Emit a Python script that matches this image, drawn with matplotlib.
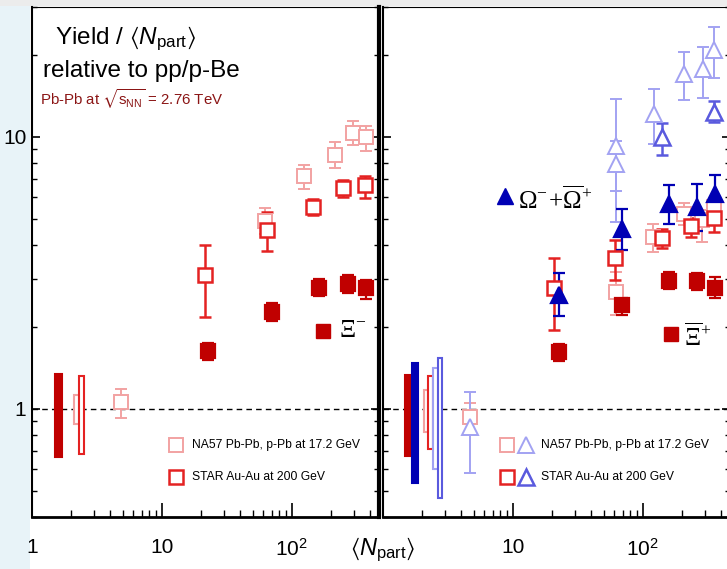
import numpy as np
import matplotlib.pyplot as plt
from matplotlib.patches import Rectangle

plt.rcParams['font.family'] = ['Liberation Sans', 'DejaVu Sans']
plt.rcParams['mathtext.fontset'] = 'custom'
plt.rcParams['mathtext.rm'] = 'Liberation Serif'
plt.rcParams['mathtext.it'] = 'Liberation Sans:italic'
plt.rcParams['mathtext.sf'] = 'Liberation Sans'
plt.rcParams['mathtext.fallback'] = 'stixsans'

# colours
c_alice_xi = '#c00000'
c_star_xi = '#e42222'
c_na57_xi = '#f2a2a2'
c_alice_om = '#0000b4'
c_star_om = '#5a5ade'
c_na57_om = '#a2a2f2'

# ---------------- left panel: Xi-
alice_xi_n = [22.5, 70, 161, 270, 371]
alice_xi_y = [1.63, 2.27, 2.79, 2.87, 2.77]
alice_xi_lo = [1.51, 2.11, 2.59, 2.67, 2.54]
alice_xi_hi = [1.75, 2.45, 2.99, 3.09, 2.97]

star_xi_n = [21.4, 64, 145, 247, 365]
star_xi_y = [3.09, 4.53, 5.51, 6.47, 6.67]
star_xi_lo = [2.18, 3.79, 5.15, 6.00, 5.97]
star_xi_hi = [4.01, 5.27, 5.90, 6.94, 7.20]

na57_xi_n = [4.84, 62, 124, 214, 295, 372]
na57_xi_y = [1.06, 4.92, 7.16, 8.60, 10.3, 9.94]
na57_xi_lo = [0.925, 4.40, 6.40, 7.70, 9.30, 8.90]
na57_xi_hi = [1.18, 5.48, 7.90, 9.60, 11.4, 11.0]

# ---------------- right panel: anti-Xi+ and Omega
alice_axi_n = [22.5, 69, 158, 264, 358]
alice_axi_y = [1.62, 2.40, 2.96, 2.94, 2.79]
alice_axi_lo = [1.50, 2.22, 2.75, 2.73, 2.56]
alice_axi_hi = [1.73, 2.56, 3.18, 3.16, 3.04]

star_axi_n = [20.6, 61, 142, 234, 354]
star_axi_y = [2.77, 3.59, 4.24, 4.69, 5.02]
star_axi_lo = [1.95, 2.98, 3.90, 4.28, 4.46]
star_axi_hi = [3.58, 4.18, 4.59, 5.04, 5.67]

na57_axi_n = [4.7, 62, 121, 208, 288, 354]
na57_axi_y = [0.93, 2.69, 4.28, 5.21, 4.93, 5.51]
na57_axi_lo = [0.81, 2.21, 3.77, 4.72, 4.10, 4.72]
na57_axi_hi = [1.05, 3.18, 4.76, 5.70, 5.40, 5.74]

alice_om_n = [22.5, 69, 158, 264, 358]
alice_om_y = [2.62, 4.58, 5.67, 5.51, 6.17]
alice_om_lo = [2.19, 3.83, 4.76, 4.49, 5.21]
alice_om_hi = [3.16, 5.43, 6.67, 6.71, 7.25]

star_om_n = [142, 354]
star_om_y = [9.94, 12.35]
star_om_lo = [8.6, 11.3]
star_om_hi = [11.2, 13.5]

na57_om_n = [4.7, 62, 62, 122, 208, 289, 354]
na57_om_y = [0.86, 9.27, 7.94, 12.1, 17.0, 17.7, 20.9]
na57_om_lo = [0.58, 6.3, 4.85, 9.4, 13.7, 13.9, 16.5]
na57_om_hi = [1.15, 13.8, 9.67, 15.0, 20.5, 21.4, 25.3]

# normalisation uncertainty boxes at small Npart: left edge, right edge, low, high
sys_left_x0 = [1.50, 2.10, 2.30]
sys_left_x1 = [1.70, 2.30, 2.51]
sys_left_lo = [0.667, 0.88, 0.68]
sys_left_hi = [1.34, 1.125, 1.32]
sys_left_col = [c_alice_xi, c_na57_xi, c_star_xi]
sys_left_fill = [True, False, False]

sys_right_x0 = [1.48, 1.67, 2.06, 2.23, 2.44, 2.63]
sys_right_x1 = [1.67, 1.87, 2.23, 2.44, 2.63, 2.84]
sys_right_lo = [0.67, 0.535, 0.82, 0.71, 0.60, 0.47]
sys_right_hi = [1.33, 1.47, 1.17, 1.32, 1.41, 1.54]
sys_right_col = [c_alice_xi, c_alice_om, c_na57_xi, c_star_xi, c_na57_om, c_star_om]
sys_right_fill = [True, True, False, False, False, False]


def errpts(ax, n, y, lo, hi, color, marker, filled, lw, ms):
    y = np.array(y)
    yerr = [y - np.array(lo), np.array(hi) - y]
    ax.errorbar(n, y, yerr=yerr, fmt=marker, color=color, ms=ms, mew=lw,
                mfc=color if filled else 'white', mec=color,
                elinewidth=lw, capsize=4, capthick=lw, zorder=3)


def sysboxes(ax, x0, x1, lo, hi, cols, fills):
    for a, b, l, h, c, f in zip(x0, x1, lo, hi, cols, fills):
        ax.add_patch(Rectangle((a, l), b - a, h - l, facecolor=c if f else 'white',
                               edgecolor=c, lw=1.5, zorder=2))


fig = plt.figure(figsize=(7.27, 5.69), dpi=100)
fig.patches.append(Rectangle((0, 0), 30 / 727, 1, transform=fig.transFigure,
                             facecolor='#e8f3f8', edgecolor='none', zorder=-1))
fig.patches.append(Rectangle((0, 1 - 6 / 569), 1, 6 / 569, transform=fig.transFigure,
                             facecolor='#ececec', edgecolor='none', zorder=-1))
ax1 = fig.add_axes([32 / 727, 52 / 569, 347 / 727, 510 / 569])
ax2 = fig.add_axes([383 / 727, 52 / 569, 347 / 727, 510 / 569])

for ax in (ax1, ax2):
    ax.set_xscale('log')
    ax.set_yscale('log')
    ax.set_xlim(1, 470)
    ax.set_ylim(0.4, 30)
    ax.axhline(1, color='k', ls='--', lw=1, dashes=(4, 3), zorder=1)
    ax.tick_params(which='both', direction='in', right=True, top=False, labelsize=15)
    ax.tick_params(axis='x', which='major', length=10, width=1.2, pad=15)
    ax.tick_params(axis='x', which='minor', length=5, width=1)
    ax.tick_params(axis='y', which='major', length=6, width=1.2, pad=4)
    ax.tick_params(axis='y', which='minor', length=3.5, width=1)
    ax.spines['bottom'].set_linewidth(2)
    ax.spines['left'].set_linewidth(1.5)

ax1.spines['right'].set_linewidth(3)
ax1.set_xticks([1, 10, 100], ['1', '10', r'$\mathsf{10^{2}}$'])
ax1.set_yticks([1, 10], ['1', '10'])
ax1.yaxis.set_minor_formatter(plt.NullFormatter())

ax2.set_xticks([10, 100], ['10', r'$\mathsf{10^{2}}$'])
ax2.set_yticks([1, 10], ['', ''])
ax2.yaxis.set_minor_formatter(plt.NullFormatter())
ax2.tick_params(labelleft=False)

# left panel
sysboxes(ax1, sys_left_x0, sys_left_x1, sys_left_lo, sys_left_hi, sys_left_col, sys_left_fill)
errpts(ax1, na57_xi_n, na57_xi_y, na57_xi_lo, na57_xi_hi, c_na57_xi, 's', False, 1.4, 9.5)
errpts(ax1, star_xi_n, star_xi_y, star_xi_lo, star_xi_hi, c_star_xi, 's', False, 1.8, 9.5)
errpts(ax1, alice_xi_n, alice_xi_y, alice_xi_lo, alice_xi_hi, c_alice_xi, 's', True, 1.6, 9.5)

# right panel
sysboxes(ax2, sys_right_x0, sys_right_x1, sys_right_lo, sys_right_hi, sys_right_col, sys_right_fill)
errpts(ax2, na57_axi_n, na57_axi_y, na57_axi_lo, na57_axi_hi, c_na57_xi, 's', False, 1.4, 9.5)
errpts(ax2, na57_om_n, na57_om_y, na57_om_lo, na57_om_hi, c_na57_om, '^', False, 1.4, 11)
errpts(ax2, star_om_n, star_om_y, star_om_lo, star_om_hi, c_star_om, '^', False, 1.8, 11)
errpts(ax2, star_axi_n, star_axi_y, star_axi_lo, star_axi_hi, c_star_xi, 's', False, 1.8, 9.5)
errpts(ax2, alice_axi_n, alice_axi_y, alice_axi_lo, alice_axi_hi, c_alice_xi, 's', True, 1.6, 9.5)
errpts(ax2, alice_om_n, alice_om_y, alice_om_lo, alice_om_hi, c_alice_om, '^', True, 1.6, 11)

# texts left
ax1.text(0.066, 0.927, r'Yield / $\langle N_{\mathsf{part}}\rangle$', transform=ax1.transAxes,
         fontsize=17.5, va='baseline')
ax1.text(0.032, 0.863, 'relative to pp/p-Be', transform=ax1.transAxes, fontsize=17.5, va='baseline')
ax1.text(0.023, 0.808, r'Pb-Pb at $\sqrt{\mathsf{s}_{\mathsf{NN}}}$ = 2.76 TeV', transform=ax1.transAxes,
         fontsize=10.8, va='baseline', color='#8b1515')

ax1.plot([0.839], [0.365], 's', color=c_alice_xi, ms=9.5, transform=ax1.transAxes)
ax1.text(0.885, 0.367, r'$\Xi^{-}$', transform=ax1.transAxes, fontsize=18, va='center')

ax1.plot([0.415], [0.141], 's', mfc='white', mec=c_na57_xi, mew=1.4, ms=9.5, transform=ax1.transAxes)
ax1.plot([0.415], [0.078], 's', mfc='white', mec=c_star_xi, mew=1.8, ms=9.5, transform=ax1.transAxes)
ax1.text(0.461, 0.141, 'NA57 Pb-Pb, p-Pb at 17.2 GeV', transform=ax1.transAxes, fontsize=8.7, va='center')
ax1.text(0.461, 0.078, 'STAR Au-Au at 200 GeV', transform=ax1.transAxes, fontsize=8.7, va='center')

# texts right
ax2.plot([0.352], [0.629], '^', color=c_alice_om, ms=11, transform=ax2.transAxes)
ax2.text(0.389, 0.622, r'$\Omega^{-}\!+\!\overline{\Omega}^{+}$', transform=ax2.transAxes,
         fontsize=18, va='center')
ax2.plot([0.830], [0.359], 's', color=c_alice_xi, ms=9.5, transform=ax2.transAxes)
ax2.text(0.866, 0.353, r'$\overline{\Xi}^{+}$', transform=ax2.transAxes, fontsize=18, va='center')

ax2.plot([0.356], [0.141], 's', mfc='white', mec=c_na57_xi, mew=1.4, ms=9.5, transform=ax2.transAxes)
ax2.plot([0.411], [0.141], '^', mfc='white', mec=c_na57_om, mew=1.4, ms=11, transform=ax2.transAxes)
ax2.plot([0.356], [0.078], 's', mfc='white', mec=c_star_xi, mew=1.8, ms=9.5, transform=ax2.transAxes)
ax2.plot([0.411], [0.078], '^', mfc='white', mec=c_star_om, mew=1.8, ms=11, transform=ax2.transAxes)
ax2.text(0.454, 0.141, 'NA57 Pb-Pb, p-Pb at 17.2 GeV', transform=ax2.transAxes, fontsize=8.7, va='center')
ax2.text(0.454, 0.078, 'STAR Au-Au at 200 GeV', transform=ax2.transAxes, fontsize=8.7, va='center')

fig.text(383 / 727, 0.034, r'$\langle N_{\mathsf{part}}\rangle$', fontsize=17, ha='center', va='center')

fig.savefig('out.png', dpi=100)
